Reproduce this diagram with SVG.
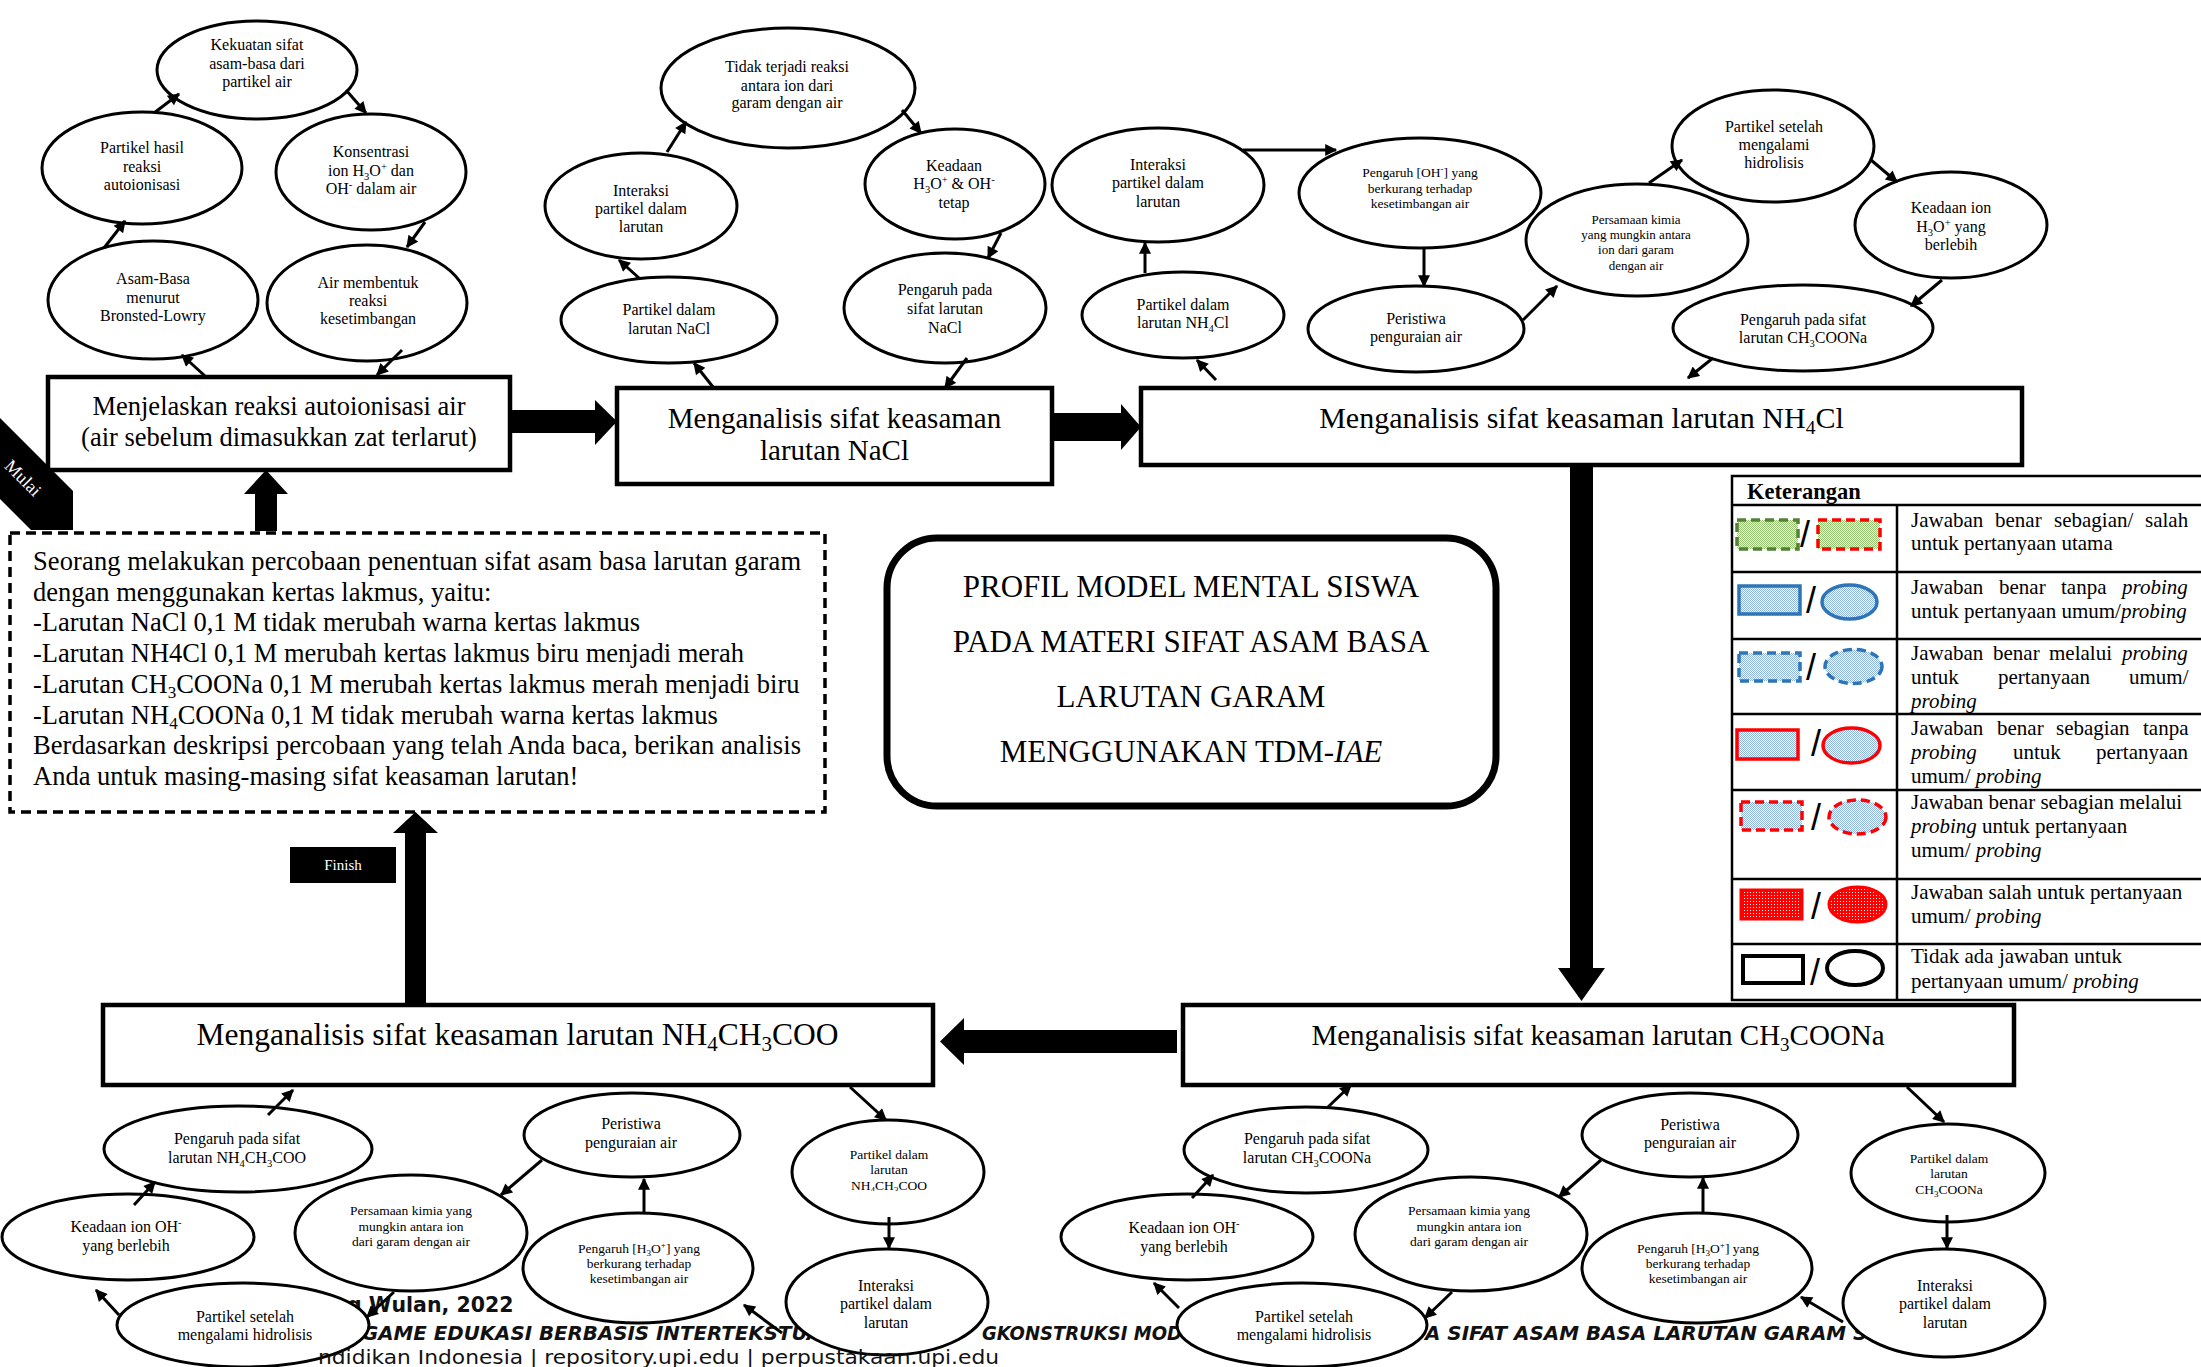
<svg xmlns="http://www.w3.org/2000/svg" width="2201" height="1367" viewBox="0 0 2201 1367">
<defs>
<style>
text{font-family:"Liberation Serif","Times New Roman",serif;fill:#000}
.n ellipse{fill:#fff;stroke:#000;stroke-width:3}
.n text{text-anchor:middle;font-size:16px}
.n text.s{font-size:13.5px}
.b rect{fill:#fff;stroke:#000;stroke-width:4.5}
.b text{text-anchor:middle}
.c line{stroke:#000;stroke-width:3;marker-end:url(#ah)}
.th{fill:#000}
.lg text{font-size:21px}
.lg .sl{font-family:"Liberation Sans",Arial,sans-serif;font-size:36px;text-anchor:middle}
.lg line{stroke:#000;stroke-width:2.5}
.wm text{font-family:"DejaVu Sans",sans-serif;font-weight:bold;fill:#111}
.wm text.r{font-weight:normal}
.i{font-style:italic}
</style>
<marker id="ah" viewBox="0 0 10 10" refX="9" refY="5" markerWidth="14" markerHeight="12" markerUnits="userSpaceOnUse" orient="auto"><path d="M0,0L10,5L0,10z" fill="#000"/></marker>
<pattern id="pg" width="2" height="2" patternUnits="userSpaceOnUse"><rect width="2" height="2" fill="#fff"/><rect width="1" height="1" fill="#8fc46b"/><rect x="1" y="1" width="1" height="1" fill="#8fc46b"/></pattern>
<pattern id="pb" width="2" height="2" patternUnits="userSpaceOnUse"><rect width="2" height="2" fill="#fff"/><rect width="1" height="1" fill="#8db3e2"/><rect x="1" y="1" width="1" height="1" fill="#8db3e2"/></pattern>
<pattern id="pr" width="3" height="3" patternUnits="userSpaceOnUse"><rect width="3" height="3" fill="#ff0000"/><rect x="1" y="1" width="1" height="1" fill="#fff"/></pattern>
<clipPath id="cl25"><rect x="830" y="1140" width="120" height="51"/></clipPath>
</defs>
<rect width="2201" height="1367" fill="#fff"/>

<g class="wm">
<text x="347" y="1312" font-size="20.5">g Wulan, 2022</text>
<text x="362" y="1340" font-size="20" font-style="italic" textLength="460" lengthAdjust="spacingAndGlyphs">GAME EDUKASI BERBASIS INTERTEKSTUA</text>
<text x="982" y="1340" font-size="20" font-style="italic" textLength="200" lengthAdjust="spacingAndGlyphs">GKONSTRUKSI MOD</text>
<text x="1425" y="1340" font-size="20" font-style="italic" textLength="456" lengthAdjust="spacingAndGlyphs">A SIFAT ASAM BASA LARUTAN GARAM SE</text>
</g>

<g id="mulai">
<polygon points="0,418 73,491 73,530 31,530 0,499" fill="#000"/>
<text transform="translate(23,478) rotate(45)" text-anchor="middle" font-size="18" style="fill:#fff" y="6">Mulai</text>
</g>

<!-- cluster 1 -->
<g id="n1" class="n"><ellipse cx="257" cy="70" rx="100" ry="49"/><text><tspan x="257" y="50">Kekuatan sifat</tspan><tspan x="257" y="68.5">asam-basa dari</tspan><tspan x="257" y="87">partikel air</tspan></text></g>
<g id="n2" class="n"><ellipse cx="142" cy="168" rx="100" ry="56"/><text><tspan x="142" y="153">Partikel hasil</tspan><tspan x="142" y="172">reaksi</tspan><tspan x="142" y="190">autoionisasi</tspan></text></g>
<g id="n3" class="n"><ellipse cx="371" cy="172" rx="95" ry="58"/><text><tspan x="371" y="157">Konsentrasi</tspan><tspan x="371" y="176">ion H<tspan font-size="10.5" dy="4">3</tspan><tspan dy="-4">O</tspan><tspan font-size="10.5" dy="-6">+</tspan><tspan dy="6"> dan</tspan></tspan><tspan x="371" y="194">OH<tspan font-size="10.5" dy="-6">-</tspan><tspan dy="6"> dalam air</tspan></tspan></text></g>
<g id="n4" class="n"><ellipse cx="153" cy="300" rx="105" ry="59"/><text><tspan x="153" y="284">Asam-Basa</tspan><tspan x="153" y="303">menurut</tspan><tspan x="153" y="321">Bronsted-Lowry</tspan></text></g>
<g id="n5" class="n"><ellipse cx="367" cy="303" rx="100" ry="58"/><text><tspan x="368" y="288">Air membentuk</tspan><tspan x="368" y="306">reaksi</tspan><tspan x="368" y="324">kesetimbangan</tspan></text></g>
<g id="box1" class="b"><rect x="48" y="377" width="462" height="93"/><text font-size="26.5"><tspan x="279" y="415">Menjelaskan reaksi autoionisasi air</tspan><tspan x="279" y="446">(air sebelum dimasukkan zat terlarut)</tspan></text></g>

<!-- cluster 2 NaCl -->
<g id="n6" class="n"><ellipse cx="788" cy="88" rx="127" ry="60"/><text><tspan x="787" y="72">Tidak terjadi reaksi</tspan><tspan x="787" y="91">antara ion dari</tspan><tspan x="787" y="108">garam dengan air</tspan></text></g>
<g id="n7" class="n"><ellipse cx="641" cy="206" rx="96" ry="53"/><text><tspan x="641" y="196">Interaksi</tspan><tspan x="641" y="214">partikel dalam</tspan><tspan x="641" y="232">larutan</tspan></text></g>
<g id="n8" class="n"><ellipse cx="955" cy="184" rx="90" ry="55"/><text><tspan x="954" y="171">Keadaan</tspan><tspan x="954" y="189">H<tspan font-size="10.5" dy="4">3</tspan><tspan dy="-4">O</tspan><tspan font-size="10.5" dy="-6">+</tspan><tspan dy="6"> &amp; OH</tspan><tspan font-size="10.5" dy="-6">-</tspan></tspan><tspan x="954" y="208">tetap</tspan></text></g>
<g id="n9" class="n"><ellipse cx="669" cy="320" rx="108" ry="43"/><text><tspan x="669" y="315">Partikel dalam</tspan><tspan x="669" y="334">larutan NaCl</tspan></text></g>
<g id="n10" class="n"><ellipse cx="945" cy="308" rx="101" ry="55"/><text><tspan x="945" y="295">Pengaruh pada</tspan><tspan x="945" y="314">sifat larutan</tspan><tspan x="945" y="333">NaCl</tspan></text></g>
<g id="box2" class="b"><rect x="617" y="388" width="435" height="96"/><text font-size="29"><tspan x="834.5" y="428">Menganalisis sifat keasaman</tspan><tspan x="834.5" y="460">larutan NaCl</tspan></text></g>

<!-- cluster 3 NH4Cl -->
<g id="n11" class="n"><ellipse cx="1158" cy="185" rx="106" ry="57"/><text><tspan x="1158" y="170">Interaksi</tspan><tspan x="1158" y="188">partikel dalam</tspan><tspan x="1158" y="207">larutan</tspan></text></g>
<g id="n12" class="n"><ellipse cx="1420" cy="193" rx="121" ry="55"/><text class="s"><tspan x="1420" y="177">Pengaruh [OH<tspan font-size="9" dy="-5">-</tspan><tspan dy="5">] yang</tspan></tspan><tspan x="1420" y="193">berkurang terhadap</tspan><tspan x="1420" y="208">kesetimbangan air</tspan></text></g>
<g id="n13" class="n"><ellipse cx="1183" cy="315" rx="101" ry="43"/><text><tspan x="1183" y="310">Partikel dalam</tspan><tspan x="1183" y="328">larutan NH<tspan font-size="10.5" dy="4">4</tspan><tspan dy="-4">Cl</tspan></tspan></text></g>
<g id="n14" class="n"><ellipse cx="1416" cy="329" rx="108" ry="43"/><text><tspan x="1416" y="324">Peristiwa</tspan><tspan x="1416" y="342">penguraian air</tspan></text></g>
<g id="n15" class="n"><ellipse cx="1637" cy="240" rx="111" ry="56"/><text class="s" style="font-size:13px"><tspan x="1636" y="224">Persamaan kimia</tspan><tspan x="1636" y="239">yang mungkin antara</tspan><tspan x="1636" y="254">ion dari garam</tspan><tspan x="1636" y="270">dengan air</tspan></text></g>
<g id="n16" class="n"><ellipse cx="1773" cy="146" rx="101" ry="56"/><text><tspan x="1774" y="132">Partikel setelah</tspan><tspan x="1774" y="150">mengalami</tspan><tspan x="1774" y="168">hidrolisis</tspan></text></g>
<g id="n17" class="n"><ellipse cx="1951" cy="225" rx="96" ry="53"/><text><tspan x="1951" y="213">Keadaan ion</tspan><tspan x="1951" y="232">H<tspan font-size="10.5" dy="4">3</tspan><tspan dy="-4">O</tspan><tspan font-size="10.5" dy="-6">+</tspan><tspan dy="6"> yang</tspan></tspan><tspan x="1951" y="250">berlebih</tspan></text></g>
<g id="n18" class="n"><ellipse cx="1803" cy="328" rx="130" ry="43"/><text><tspan x="1803" y="325">Pengaruh pada sifat</tspan><tspan x="1803" y="343">larutan CH<tspan font-size="10.5" dy="4">3</tspan><tspan dy="-4">COONa</tspan></tspan></text></g>
<g id="box3" class="b"><rect x="1141" y="388" width="881" height="77"/><text font-size="30"><tspan x="1581.5" y="428">Menganalisis sifat keasaman larutan NH<tspan font-size="19.5" dy="6">4</tspan><tspan dy="-6">Cl</tspan></tspan></text></g>

<!-- question box -->
<g id="question">
<rect x="10" y="533" width="815" height="279" fill="#fff" stroke="#000" stroke-width="3.5" stroke-dasharray="10 6"/>
<text font-size="26.5">
<tspan x="33" y="570" textLength="768" lengthAdjust="spacing">Seorang melakukan percobaan penentuan sifat asam basa larutan garam</tspan>
<tspan x="33" y="600.7">dengan menggunakan kertas lakmus, yaitu:</tspan>
<tspan x="33" y="631.4">-Larutan NaCl 0,1 M tidak merubah warna kertas lakmus</tspan>
<tspan x="33" y="662.1">-Larutan NH4Cl 0,1 M merubah kertas lakmus biru menjadi merah</tspan>
<tspan x="33" y="692.8">-Larutan CH<tspan font-size="17" dy="5">3</tspan><tspan dy="-5">COONa 0,1 M merubah kertas lakmus merah menjadi biru</tspan></tspan>
<tspan x="33" y="723.5">-Larutan NH<tspan font-size="17" dy="5">4</tspan><tspan dy="-5">COONa 0,1 M tidak merubah warna kertas lakmus</tspan></tspan>
<tspan x="33" y="754.2" textLength="768" lengthAdjust="spacing">Berdasarkan deskripsi percobaan yang telah Anda baca, berikan analisis</tspan>
<tspan x="33" y="784.9">Anda untuk masing-masing sifat keasaman larutan!</tspan>
</text>
</g>

<g id="finish"><rect x="290" y="847" width="106" height="36" fill="#000"/><text x="343" y="870" text-anchor="middle" font-size="15" style="fill:#fff">Finish</text></g>

<g id="title">
<rect x="887" y="538" width="609" height="268" rx="50" ry="50" fill="#fff" stroke="#000" stroke-width="7"/>
<text font-size="31" text-anchor="middle"><tspan x="1191" y="597">PROFIL MODEL MENTAL SISWA</tspan><tspan x="1191" y="652">PADA MATERI SIFAT ASAM BASA</tspan><tspan x="1191" y="707">LARUTAN GARAM</tspan><tspan x="1191" y="762">MENGGUNAKAN TDM-<tspan class="i">IAE</tspan></tspan></text>
</g>

<!-- bottom-left NH4CH3COO -->
<g id="n19" class="n"><ellipse cx="238" cy="1149" rx="134" ry="43"/><text><tspan x="237" y="1144">Pengaruh pada sifat</tspan><tspan x="237" y="1163">larutan NH<tspan font-size="10.5" dy="4">4</tspan><tspan dy="-4">CH</tspan><tspan font-size="10.5" dy="4">3</tspan><tspan dy="-4">COO</tspan></tspan></text></g>
<g id="n20" class="n"><ellipse cx="128" cy="1237" rx="126" ry="43"/><text><tspan x="126" y="1232">Keadaan ion OH<tspan font-size="10.5" dy="-6">-</tspan></tspan><tspan x="126" y="1251">yang berlebih</tspan></text></g>
<g id="n21" class="n"><ellipse cx="243" cy="1325" rx="126" ry="42"/><text><tspan x="245" y="1322">Partikel setelah</tspan><tspan x="245" y="1340">mengalami hidrolisis</tspan></text></g>
<g id="n22" class="n"><ellipse cx="411" cy="1233" rx="116" ry="58"/><text class="s"><tspan x="411" y="1215">Persamaan kimia yang</tspan><tspan x="411" y="1231">mungkin antara ion</tspan><tspan x="411" y="1246">dari garam dengan air</tspan></text></g>
<g id="n23" class="n"><ellipse cx="632" cy="1135" rx="108" ry="42"/><text><tspan x="631" y="1129">Peristiwa</tspan><tspan x="631" y="1148">penguraian air</tspan></text></g>
<g id="n24" class="n"><ellipse cx="638" cy="1268" rx="115" ry="55"/><text class="s"><tspan x="639" y="1253">Pengaruh [H<tspan font-size="9" dy="3">3</tspan><tspan dy="-3">O</tspan><tspan font-size="9" dy="-5">+</tspan><tspan dy="5">] yang</tspan></tspan><tspan x="639" y="1268">berkurang terhadap</tspan><tspan x="639" y="1283">kesetimbangan air</tspan></text></g>
<g id="n25" class="n"><ellipse cx="888" cy="1172" rx="96" ry="52"/><text class="s"><tspan x="889" y="1159">Partikel dalam</tspan><tspan x="889" y="1174">larutan</tspan></text><text class="s" clip-path="url(#cl25)"><tspan x="889" y="1190">NH<tspan font-size="9" dy="3">4</tspan><tspan dy="-3">CH</tspan><tspan font-size="9" dy="3">3</tspan><tspan dy="-3">COO</tspan></tspan></text></g>
<g id="n26" class="n"><ellipse cx="887" cy="1302" rx="101" ry="53"/><text><tspan x="886" y="1291">Interaksi</tspan><tspan x="886" y="1309">partikel dalam</tspan><tspan x="886" y="1328">larutan</tspan></text></g>
<g id="box4" class="b"><rect x="103" y="1005" width="830" height="80"/><text font-size="31.5"><tspan x="517.5" y="1045">Menganalisis sifat keasaman larutan NH<tspan font-size="21" dy="6">4</tspan><tspan dy="-6">CH</tspan><tspan font-size="21" dy="6">3</tspan><tspan dy="-6">COO</tspan></tspan></text></g>

<!-- bottom-right CH3COONa -->
<g id="n27" class="n"><ellipse cx="1306" cy="1150" rx="122" ry="43"/><text><tspan x="1307" y="1144">Pengaruh pada sifat</tspan><tspan x="1307" y="1163">larutan CH<tspan font-size="10.5" dy="4">3</tspan><tspan dy="-4">COONa</tspan></tspan></text></g>
<g id="n28" class="n"><ellipse cx="1187" cy="1237" rx="126" ry="43"/><text><tspan x="1184" y="1233">Keadaan ion OH<tspan font-size="10.5" dy="-6">-</tspan></tspan><tspan x="1184" y="1252">yang berlebih</tspan></text></g>
<g id="n29" class="n"><ellipse cx="1302" cy="1325" rx="125" ry="42"/><text><tspan x="1304" y="1322">Partikel setelah</tspan><tspan x="1304" y="1340">mengalami hidrolisis</tspan></text></g>
<g id="n30" class="n"><ellipse cx="1471" cy="1234" rx="116" ry="57"/><text class="s"><tspan x="1469" y="1215">Persamaan kimia yang</tspan><tspan x="1469" y="1231">mungkin antara ion</tspan><tspan x="1469" y="1246">dari garam dengan air</tspan></text></g>
<g id="n31" class="n"><ellipse cx="1690" cy="1135" rx="108" ry="42"/><text><tspan x="1690" y="1130">Peristiwa</tspan><tspan x="1690" y="1148">penguraian air</tspan></text></g>
<g id="n32" class="n"><ellipse cx="1697" cy="1268" rx="115" ry="55"/><text class="s"><tspan x="1698" y="1253">Pengaruh [H<tspan font-size="9" dy="3">3</tspan><tspan dy="-3">O</tspan><tspan font-size="9" dy="-5">+</tspan><tspan dy="5">] yang</tspan></tspan><tspan x="1698" y="1268">berkurang terhadap</tspan><tspan x="1698" y="1283">kesetimbangan air</tspan></text></g>
<g id="n33" class="n"><ellipse cx="1948" cy="1173" rx="97" ry="49"/><text class="s"><tspan x="1949" y="1163">Partikel dalam</tspan><tspan x="1949" y="1178">larutan</tspan><tspan x="1949" y="1194">CH<tspan font-size="9" dy="3">3</tspan><tspan dy="-3">COONa</tspan></tspan></text></g>
<g id="n34" class="n"><ellipse cx="1944" cy="1303" rx="101" ry="54"/><text><tspan x="1945" y="1291">Interaksi</tspan><tspan x="1945" y="1309">partikel dalam</tspan><tspan x="1945" y="1328">larutan</tspan></text></g>
<g id="box5" class="b"><rect x="1183" y="1005" width="831" height="80"/><text font-size="29"><tspan x="1598" y="1045">Menganalisis sifat keasaman larutan CH<tspan font-size="19" dy="6">3</tspan><tspan dy="-6">COONa</tspan></tspan></text></g>

<g class="wm">
<text class="r" x="318" y="1364" font-size="19.5" textLength="681" lengthAdjust="spacingAndGlyphs">ndidikan Indonesia | repository.upi.edu | perpustakaan.upi.edu</text>
</g>

<!-- connectors -->
<g id="connectors" class="c">
<line x1="205" y1="376" x2="182" y2="355"/>
<line x1="104" y1="248" x2="125" y2="221"/>
<line x1="154" y1="113" x2="179" y2="94"/>
<line x1="346" y1="90" x2="366" y2="113"/>
<line x1="425" y1="222" x2="407" y2="247"/>
<line x1="402" y1="350" x2="377" y2="375"/>
<line x1="713" y1="387" x2="694" y2="363"/>
<line x1="639" y1="278" x2="619" y2="260"/>
<line x1="667" y1="152" x2="686" y2="122"/>
<line x1="902" y1="110" x2="921" y2="133"/>
<line x1="1001" y1="233" x2="988" y2="258"/>
<line x1="967" y1="358" x2="945" y2="388"/>
<line x1="1216" y1="380" x2="1197" y2="360"/>
<line x1="1145" y1="273" x2="1145" y2="243"/>
<line x1="1243" y1="150" x2="1336" y2="150"/>
<line x1="1424" y1="249" x2="1424" y2="286"/>
<line x1="1523" y1="320" x2="1557" y2="286"/>
<line x1="1649" y1="183" x2="1682" y2="160"/>
<line x1="1871" y1="160" x2="1897" y2="182"/>
<line x1="1942" y1="280" x2="1911" y2="306"/>
<line x1="1713" y1="358" x2="1688" y2="378"/>
<line x1="268" y1="1115" x2="293" y2="1090"/>
<line x1="134" y1="1205" x2="155" y2="1182"/>
<line x1="119" y1="1315" x2="96" y2="1290"/>
<line x1="394" y1="1292" x2="367" y2="1317"/>
<line x1="542" y1="1160" x2="501" y2="1195"/>
<line x1="644" y1="1213" x2="644" y2="1179"/>
<line x1="850" y1="1087" x2="886" y2="1120"/>
<line x1="889" y1="1217" x2="889" y2="1248"/>
<line x1="782" y1="1333" x2="744" y2="1305"/>
<line x1="1328" y1="1107" x2="1351" y2="1085"/>
<line x1="1192" y1="1198" x2="1213" y2="1175"/>
<line x1="1179" y1="1308" x2="1154" y2="1283"/>
<line x1="1452" y1="1292" x2="1425" y2="1318"/>
<line x1="1601" y1="1160" x2="1559" y2="1197"/>
<line x1="1703" y1="1213" x2="1703" y2="1178"/>
<line x1="1907" y1="1087" x2="1944" y2="1122"/>
<line x1="1947" y1="1215" x2="1947" y2="1248"/>
<line x1="1843" y1="1322" x2="1801" y2="1297"/>
<path class="th" d="M510,410H595V400L617,421.5L595,445V433H510Z"/>
<path class="th" d="M1053,413H1121V404L1141,427L1121,450V441H1053Z"/>
<path class="th" d="M1570,465V968H1558L1581.5,1001L1605,968H1593V465Z"/>
<path class="th" d="M1177,1030H964V1018L940,1041.5L964,1065V1053H1177Z"/>
<path class="th" d="M255,531V494H244L266,470L288,494H277V531Z"/>
<path class="th" d="M405,1005V833H393L415.5,812L438,833H426V1005Z"/>
</g>

<!-- legend -->
<g id="legend" class="lg">
<rect x="1732" y="476" width="480" height="524" fill="#fff" stroke="#000" stroke-width="2.5"/>
<line x1="1732" y1="505" x2="2201" y2="505"/>
<line x1="1732" y1="572" x2="2201" y2="572"/>
<line x1="1732" y1="639" x2="2201" y2="639"/>
<line x1="1732" y1="714" x2="2201" y2="714"/>
<line x1="1732" y1="790" x2="2201" y2="790"/>
<line x1="1732" y1="879" x2="2201" y2="879"/>
<line x1="1732" y1="944" x2="2201" y2="944"/>
<line x1="1897" y1="505" x2="1897" y2="1000"/>
<text x="1747" y="499" font-weight="bold" style="font-size:22.5px">Keterangan</text>

<rect x="1737" y="520" width="61" height="29" fill="url(#pg)" stroke="#538135" stroke-width="3.5" stroke-dasharray="9 5"/>
<text class="sl" x="1805" y="547">/</text>
<rect x="1818" y="520" width="62" height="29" fill="url(#pg)" stroke="#ff0000" stroke-width="3.5" stroke-dasharray="9 5"/>
<text y="527"><tspan x="1911">Jawaban</tspan><tspan x="1995">benar</tspan><tspan x="2054">sebagian/</tspan><tspan x="2145">salah</tspan></text>
<text x="1911" y="550">untuk pertanyaan utama</text>

<rect x="1739" y="586" width="61" height="28" fill="url(#pb)" stroke="#2e75b6" stroke-width="3.5"/>
<text class="sl" x="1811" y="613">/</text>
<ellipse cx="1849.5" cy="602" rx="27.5" ry="17" fill="url(#pb)" stroke="#2e75b6" stroke-width="3.5"/>
<text y="594"><tspan x="1911">Jawaban</tspan><tspan x="1999">benar</tspan><tspan x="2061">tanpa</tspan><tspan x="2122" class="i">probing</tspan></text>
<text x="1911" y="618">untuk pertanyaan umum/<tspan class="i">probing</tspan></text>

<rect x="1739" y="653" width="61" height="28" fill="url(#pb)" stroke="#2e75b6" stroke-width="3.5" stroke-dasharray="9 5"/>
<text class="sl" x="1811" y="680">/</text>
<ellipse cx="1853.5" cy="666.5" rx="28.5" ry="17" fill="url(#pb)" stroke="#2e75b6" stroke-width="3.5" stroke-dasharray="9 5"/>
<text y="660"><tspan x="1911">Jawaban</tspan><tspan x="1993">benar</tspan><tspan x="2049">melalui</tspan><tspan x="2122" class="i">probing</tspan></text>
<text y="684"><tspan x="1911">untuk</tspan><tspan x="1998">pertanyaan</tspan><tspan x="2129">umum/</tspan></text>
<text x="1911" y="708" class="i">probing</text>

<rect x="1737" y="730" width="61" height="29" fill="url(#pb)" stroke="#ff0000" stroke-width="3.5"/>
<text class="sl" x="1816" y="756">/</text>
<ellipse cx="1851.5" cy="745.5" rx="28.5" ry="17.5" fill="url(#pb)" stroke="#ff0000" stroke-width="3.5"/>
<text y="735"><tspan x="1911">Jawaban</tspan><tspan x="1997">benar</tspan><tspan x="2056">sebagian</tspan><tspan x="2143">tanpa</tspan></text>
<text y="759"><tspan x="1911" class="i">probing</tspan><tspan x="2013">untuk</tspan><tspan x="2096">pertanyaan</tspan></text>
<text x="1911" y="783">umum/ <tspan class="i">probing</tspan></text>

<rect x="1741" y="802" width="61" height="28" fill="url(#pb)" stroke="#ff0000" stroke-width="3.5" stroke-dasharray="9 5"/>
<text class="sl" x="1816" y="830">/</text>
<ellipse cx="1857.5" cy="817" rx="28.5" ry="17" fill="url(#pb)" stroke="#ff0000" stroke-width="3.5" stroke-dasharray="9 5"/>
<text x="1911" y="809">Jawaban benar sebagian melalui</text>
<text x="1911" y="833"><tspan class="i">probing</tspan> untuk pertanyaan</text>
<text x="1911" y="857">umum/ <tspan class="i">probing</tspan></text>

<rect x="1741" y="890" width="61" height="29" fill="url(#pr)" stroke="#ff0000" stroke-width="3"/>
<text class="sl" x="1816" y="919">/</text>
<ellipse cx="1857.5" cy="904.5" rx="28.5" ry="17.5" fill="url(#pr)" stroke="#ff0000" stroke-width="3"/>
<text x="1911" y="899">Jawaban salah untuk pertanyaan</text>
<text x="1911" y="923">umum/ <tspan class="i">probing</tspan></text>

<rect x="1743" y="956" width="60" height="27" fill="#fff" stroke="#000" stroke-width="4"/>
<text class="sl" x="1815" y="985">/</text>
<ellipse cx="1855" cy="968" rx="28" ry="17" fill="#fff" stroke="#000" stroke-width="4"/>
<text x="1911" y="963">Tidak ada jawaban untuk</text>
<text x="1911" y="988">pertanyaan umum/ <tspan class="i">probing</tspan></text>
</g>
</svg>
